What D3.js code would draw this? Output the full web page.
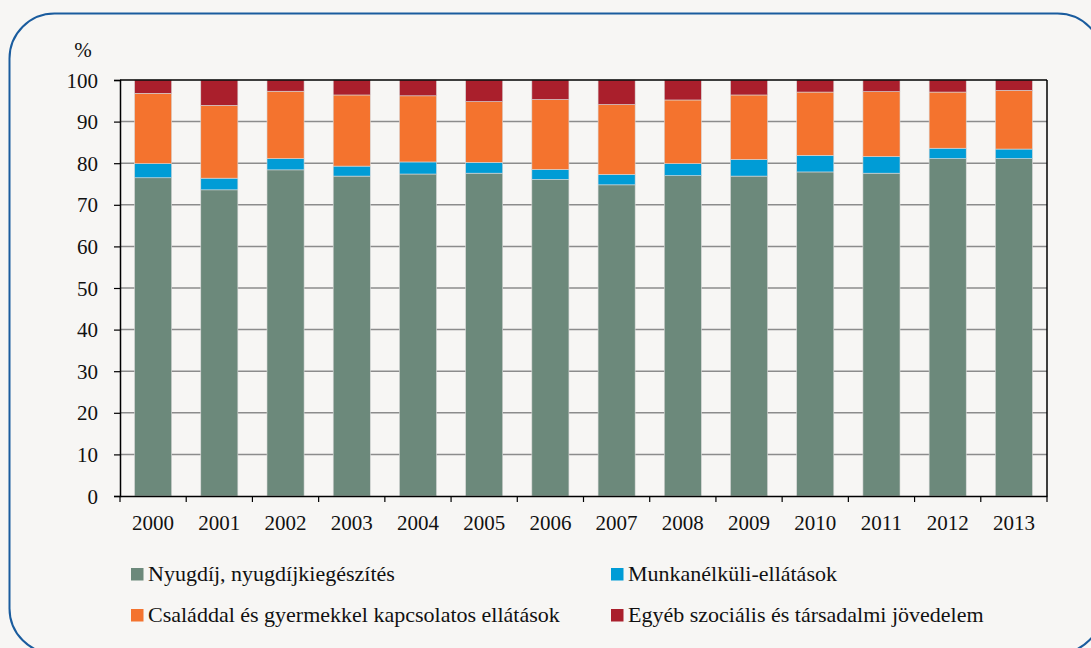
<!DOCTYPE html>
<html><head><meta charset="utf-8">
<script src="https://cdn.jsdelivr.net/npm/d3@7"></script>
<style>html,body{margin:0;padding:0;background:#f7f6f4;}svg{display:block;}
svg text{font-family:"Liberation Serif","DejaVu Serif","Times New Roman",serif;}</style>
</head><body>
<script>
const years = ["2000","2001","2002","2003","2004","2005","2006","2007","2008","2009","2010","2011","2012","2013"];
const nyugdij = [76.5,73.6,78.4,76.9,77.4,77.6,76.1,74.8,77.0,76.9,77.9,77.6,81.1,81.1];
const munkanelkuli = [3.4,2.8,2.7,2.4,2.9,2.6,2.4,2.5,2.9,4.0,4.0,4.0,2.5,2.3];
const csaladi = [16.9,17.5,16.2,17.1,15.9,14.6,16.8,16.8,15.3,15.5,15.2,15.6,13.5,14.1];
const egyeb = [3.2,6.1,2.7,3.6,3.8,5.2,4.7,5.9,4.8,3.6,2.9,2.8,2.9,2.5];
const seriesNames = ["Nyugdíj, nyugdíjkiegészítés","Munkanélküli-ellátások","Családdal és gyermekkel kapcsolatos ellátások","Egyéb szociális és társadalmi jövedelem"];
const colors = ["#6c897b","#009cd6","#f4732e","#aa1f2c"];
const yTicks = [0,10,20,30,40,50,60,70,80,90,100];

const W=1091,H=648;
const svg=d3.select("body").append("svg").attr("width",W).attr("height",H);
svg.append("rect").attr("width",W).attr("height",H).attr("fill","#f7f6f4");
svg.append("rect").attr("x",9.5).attr("y",13.5).attr("width",1093).attr("height",640).attr("rx",45).attr("ry",45)
  .attr("fill","none").attr("stroke","#1a5c9e").attr("stroke-width",2);

const L=120,R=1047,T=80,B=496;
const x=d3.scaleBand().domain(years).range([L,R]).paddingInner(0.44).paddingOuter(0.22);
const y=d3.scaleLinear().domain([0,100]).range([B,T]);
const fs=21;

svg.append("g").selectAll("line").data(yTicks.filter(d=>d>0&&d<100)).join("line")
  .attr("x1",L).attr("x2",R).attr("y1",d=>y(d)).attr("y2",d=>y(d))
  .attr("stroke","#8c8c8c").attr("stroke-width",1.5);

const data=years.map((yr,i)=>({year:yr,s0:nyugdij[i],s1:munkanelkuli[i],s2:csaladi[i],s3:egyeb[i]}));
const stack=d3.stack().keys(["s0","s1","s2","s3"])(data);
svg.append("g").selectAll("g").data(stack).join("g").attr("fill",(d,i)=>colors[i])
  .selectAll("rect").data(d=>d).join("rect")
  .attr("x",d=>x(d.data.year)).attr("width",x.bandwidth())
  .attr("y",d=>y(Math.min(d[1],100))).attr("height",d=>y(d[0])-y(Math.min(d[1],100)))
  .attr("stroke","#d8d8d8").attr("stroke-width",0.6);

svg.append("line").attr("x1",L).attr("x2",R).attr("y1",T).attr("y2",T).attr("stroke","#000").attr("stroke-width",1.5);
svg.append("line").attr("x1",R).attr("x2",R).attr("y1",T).attr("y2",B).attr("stroke","#000").attr("stroke-width",1.5);

const ya=svg.append("g").attr("transform",`translate(${L},0)`)
  .call(d3.axisLeft(y).tickValues(yTicks).tickSize(6).tickPadding(16));
ya.attr("font-family",null);
ya.select(".domain").attr("stroke","#000").attr("stroke-width",1.5);
ya.selectAll(".tick line").attr("stroke","#000").attr("stroke-width",1.2);
ya.selectAll("text").attr("font-size",fs).attr("fill","#111").attr("dy","0.34em");

const xa=svg.append("g").attr("transform",`translate(0,${B})`)
  .call(d3.axisBottom(x).tickSize(0).tickPadding(19));
xa.attr("font-family",null);
xa.select(".domain").attr("stroke","#000").attr("stroke-width",1.5);
xa.selectAll("text").attr("font-size",fs).attr("fill","#111");
const bounds=d3.range(years.length+1).map(i=>L+(R-L)*i/years.length);
svg.append("g").selectAll("line").data(bounds).join("line")
  .attr("x1",d=>d).attr("x2",d=>d).attr("y1",B).attr("y2",B+6).attr("stroke","#000").attr("stroke-width",1.2);

svg.append("text").attr("x",83).attr("y",57).attr("text-anchor","middle")
  .attr("font-size",fs).attr("fill","#111").text("%");

const legPos=[[131,581],[611,581],[131,622],[611,622]];
const leg=svg.append("g").selectAll("g").data(seriesNames).join("g")
  .attr("transform",(d,i)=>`translate(${legPos[i][0]},${legPos[i][1]})`);
leg.append("rect").attr("x",0).attr("y",-13).attr("width",12.5).attr("height",12.5).attr("fill",(d,i)=>colors[i]);
leg.append("text").attr("x",17).attr("y",0).attr("font-size",22).attr("fill","#111").text(d=>d);
</script>
</body></html>
